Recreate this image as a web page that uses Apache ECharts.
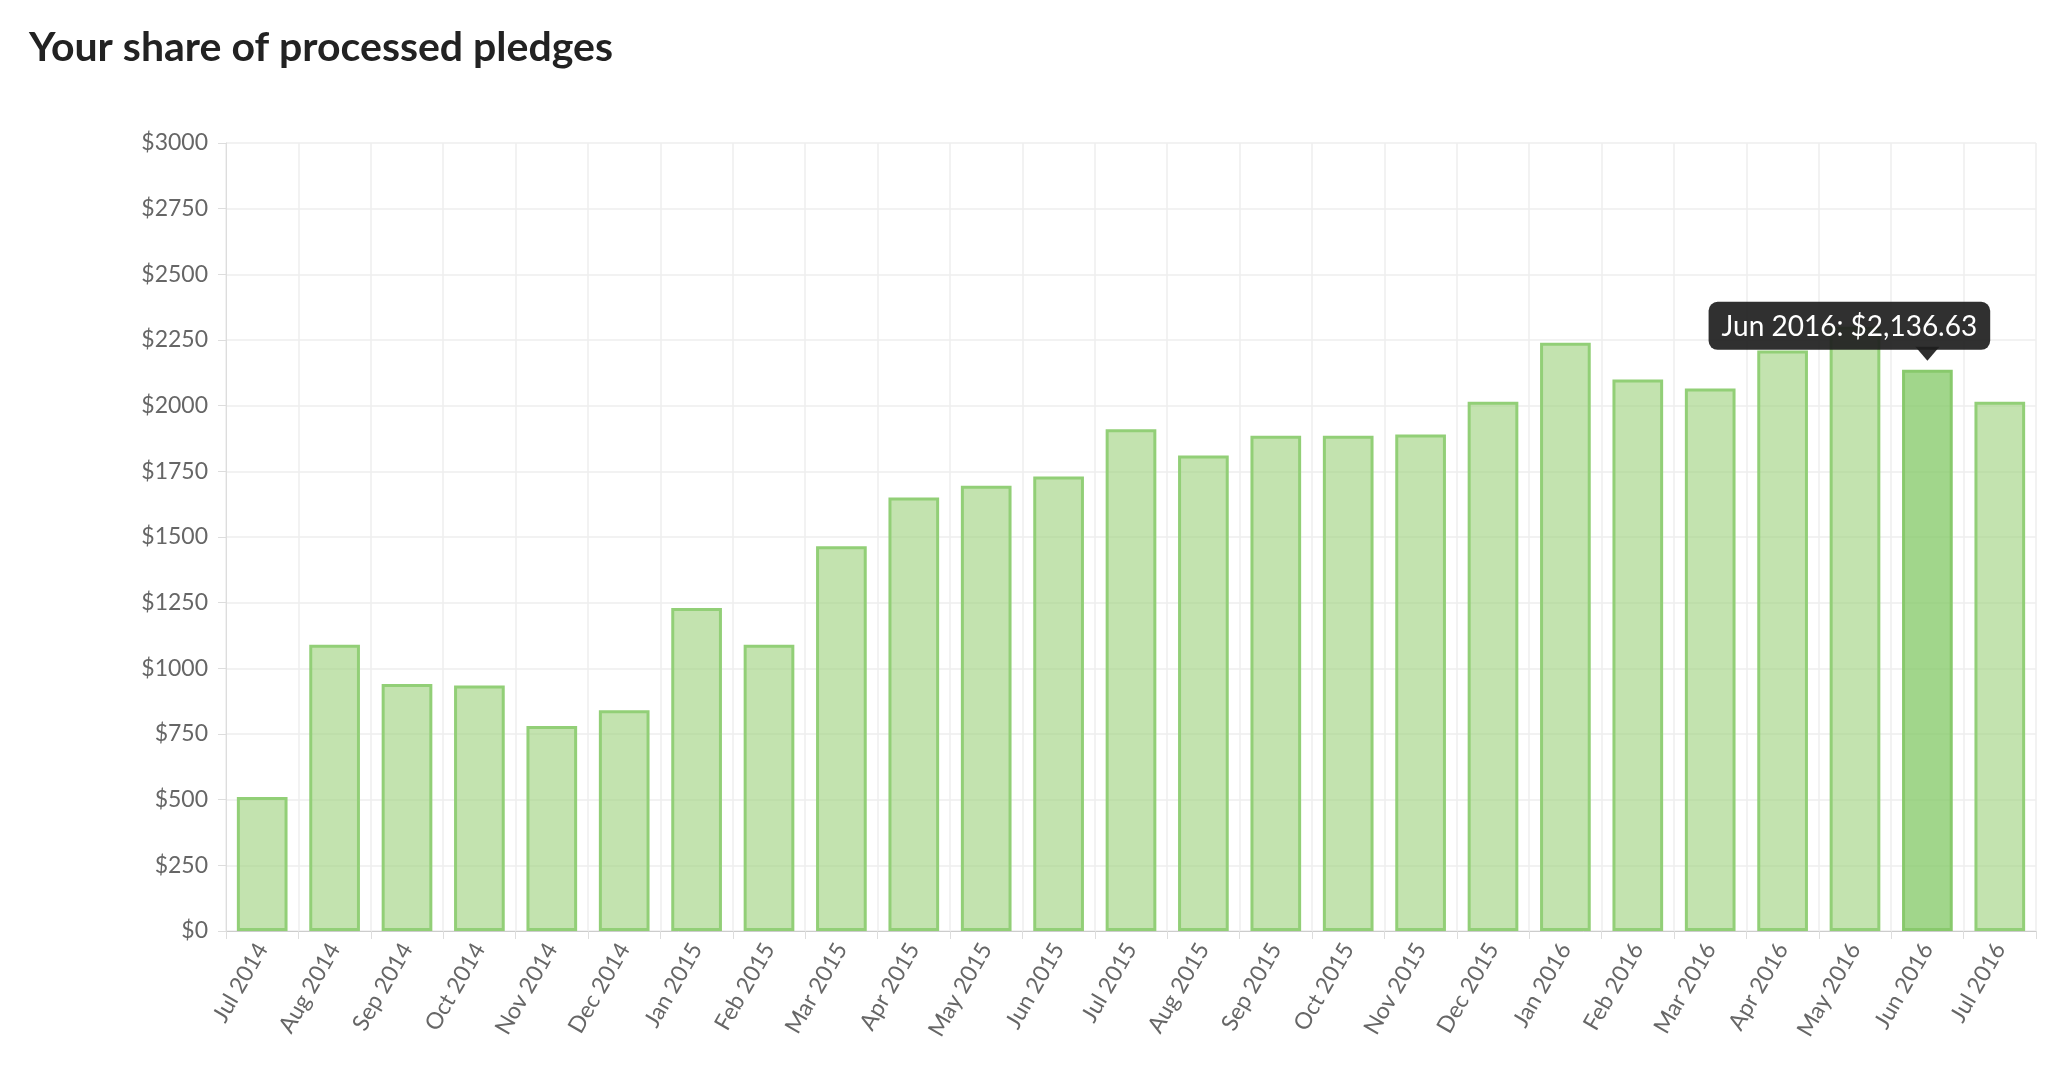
<!DOCTYPE html>
<html><head><meta charset="utf-8">
<script src="https://cdn.jsdelivr.net/npm/echarts@6/dist/echarts.min.js"></script>
<style>html,body{margin:0;padding:0;background:#fff}#c{width:2070px;height:1084px}</style>
</head><body><div id="c"></div>
<script>
const categories = ['Jul 2014','Aug 2014','Sep 2014','Oct 2014','Nov 2014','Dec 2014','Jan 2015','Feb 2015','Mar 2015','Apr 2015','May 2015','Jun 2015','Jul 2015','Aug 2015','Sep 2015','Oct 2015','Nov 2015','Dec 2015','Jan 2016','Feb 2016','Mar 2016','Apr 2016','May 2016','Jun 2016','Jul 2016'];
const values = [510,1090,940,935,780,840,1230,1090,1465,1650,1695,1730,1910,1810,1885,1885,1890,2015,2240,2100,2065,2210,2300,2136.63,2015];
const highlightIndex = 23;
const yTicks = {min:0,max:3000,interval:250};

const chart = echarts.init(document.getElementById('c'));
const fmt = v => '$' + v.toLocaleString('en-US',{minimumFractionDigits:2,maximumFractionDigits:2});
chart.setOption({
  animation:false,
  title:{text:'Your share of processed pledges',left:24,top:22,textStyle:{fontFamily:'Lato',fontSize:41,fontWeight:'bold',color:'#222'}},
  grid:{left:226,right:34,top:143,bottom:153},
  xAxis:{type:'category',data:categories,boundaryGap:true,
    axisLine:{lineStyle:{color:'#ccc'}},axisTick:{show:true,length:8,lineStyle:{color:'#ddd'}},
    splitLine:{show:true,lineStyle:{color:'#eee',width:1.5}},
    axisLabel:{rotate:60,interval:0,fontFamily:'Lato',fontSize:23,color:'#666',margin:14}},
  yAxis:{type:'value',min:yTicks.min,max:yTicks.max,interval:yTicks.interval,
    axisLine:{show:true,lineStyle:{color:'#ddd'}},axisTick:{show:true,length:8,lineStyle:{color:'#ddd'}},
    splitLine:{lineStyle:{color:'#eee',width:1.5}},
    axisLabel:{formatter:v=>'$'+v,fontFamily:'Lato',fontSize:23,color:'#666',margin:18}},
  series:[{type:'bar',barCategoryGap:'30%',
    data:values.map((v,i)=>i===highlightIndex?{value:v,itemStyle:{color:'rgba(130,200,100,0.75)',borderColor:'#88c96c'},
      label:{show:true,position:'top',distance:20,offset:[-78,0],formatter:p=>p.name+': '+fmt(p.value),backgroundColor:'rgba(30,30,30,0.92)',color:'#fff',
        fontFamily:'Lato',fontSize:28,padding:[11,13,9,13],borderRadius:9}}:v),
    itemStyle:{color:'rgba(151,207,118,0.58)',borderColor:'#92cf77',borderWidth:3},
    markPoint:{silent:true,data:[{coord:[categories[highlightIndex],values[highlightIndex]],symbol:'triangle',symbolRotate:180,symbolSize:[24,14],symbolOffset:[0,-16],
      itemStyle:{color:'rgba(30,30,30,0.92)'},label:{show:false}}]}
  }]
});
</script></body></html>
